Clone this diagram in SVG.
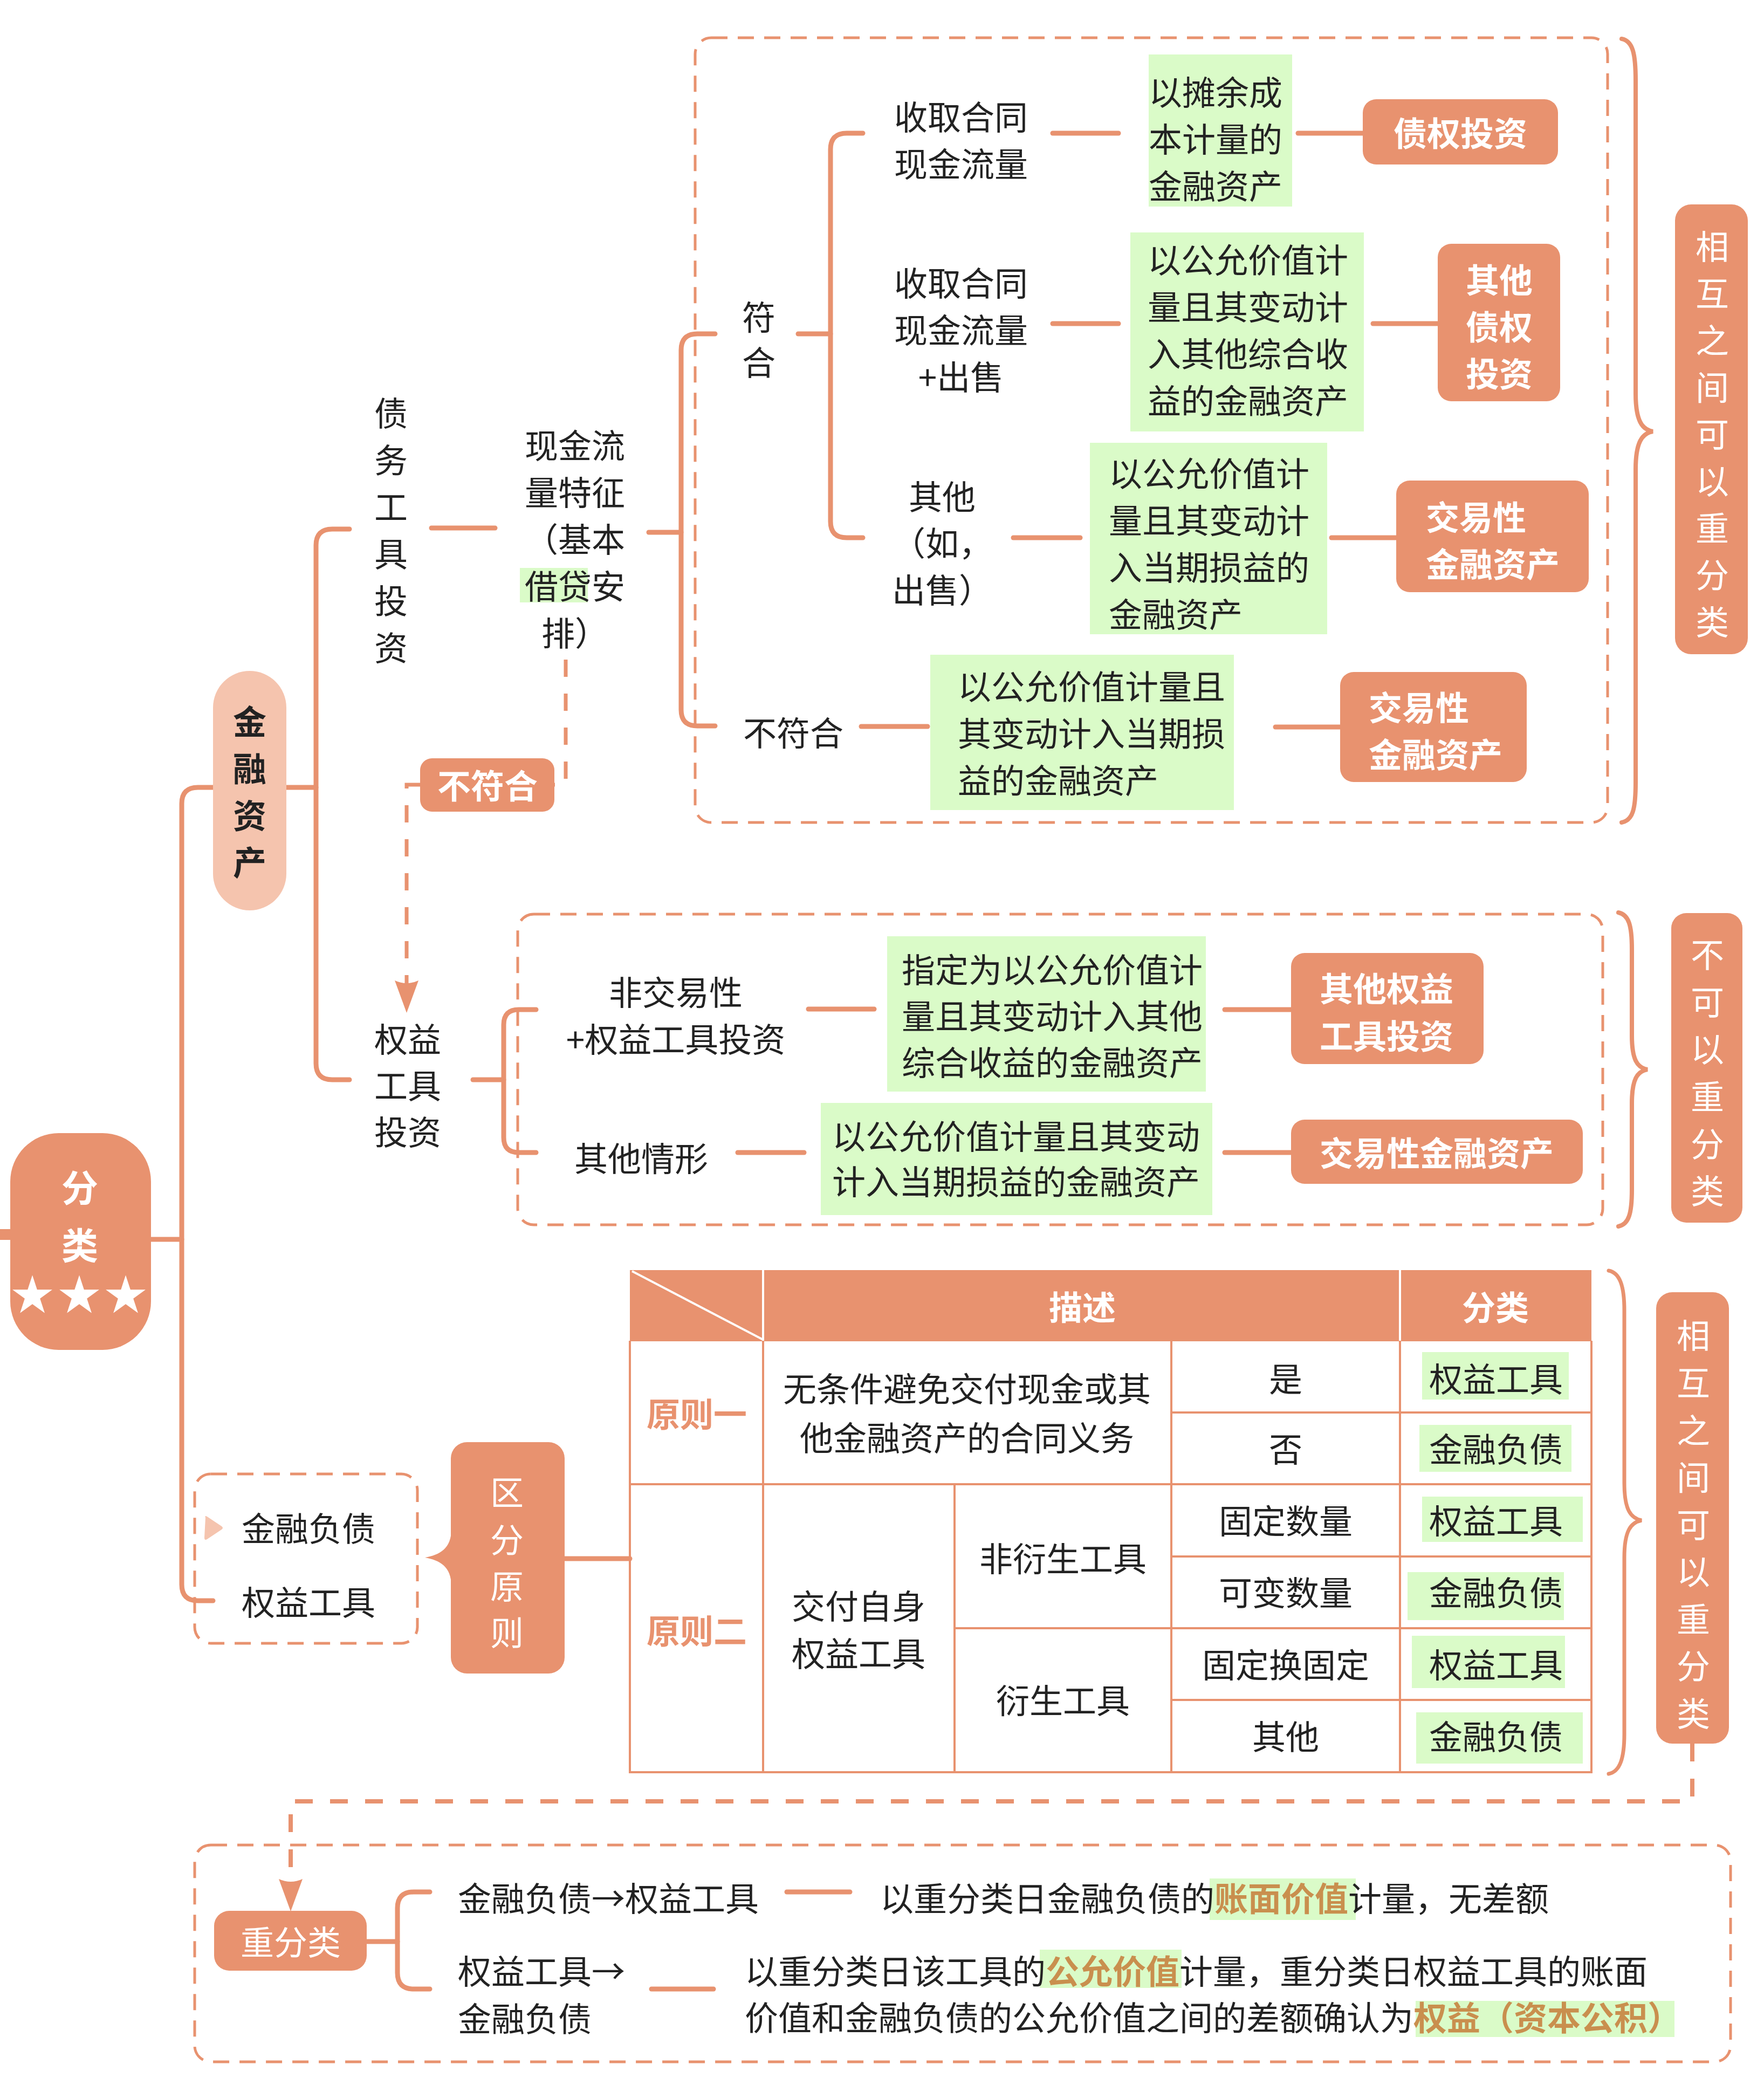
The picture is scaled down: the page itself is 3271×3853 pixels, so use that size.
<svg xmlns="http://www.w3.org/2000/svg" width="3271" height="3853" viewBox="0 0 3271 3853">
<defs>
<style>
.ln{stroke:#E8926F;stroke-width:9;fill:none;stroke-linecap:round;stroke-linejoin:round}
.tl{stroke:#E8926F;stroke-width:4;fill:none}
.dbox{stroke:#E8926F;stroke-width:5;fill:none;stroke-dasharray:30 19}
.dc{stroke:#E8926F;stroke-width:7;fill:none;stroke-dasharray:32 31}
.dc2{stroke:#E8926F;stroke-width:8;fill:none;stroke-dasharray:33 32}
.br{stroke:#E8926F;stroke-width:8;fill:none;stroke-linecap:round}
.n{fill:#E8926F}
.g{fill:#DAFBC8}
.t{font-family:"Noto Sans CJK SC","Noto Sans",sans-serif;font-size:62px;fill:#222;dominant-baseline:central}
.w{fill:#fff}
.b{font-weight:bold}
.m{text-anchor:middle}
.o{fill:#E8926F}
.tan{fill:#C98F4E;font-weight:bold}
.star{font-family:"DejaVu Sans",sans-serif;font-size:96px;fill:#fff;text-anchor:middle}
</style>
<marker id="arr" markerUnits="userSpaceOnUse" markerWidth="60" markerHeight="44" viewBox="0 0 60 44" refX="34" refY="22" orient="auto">
<path d="M0 0 Q10 22 0 44 L60 22 Z" fill="#E8926F"/>
</marker>
</defs>
<rect width="3271" height="3853" fill="#fff"/>

<g id="connectors">
<rect x="0" y="2279" width="20" height="20" class="n"/>
<path class="ln" d="M280 2298 L337 2298"/>
<path class="ln" d="M395 1460 L367 1460 Q337 1460 337 1490 L337 2938 Q337 2968 367 2968 L395 2968"/>
<path class="ln" d="M531 1460 L586 1460"/>
<path class="ln" d="M648 981 L616 981 Q586 981 586 1011 L586 1972 Q586 2002 616 2002 L648 2002"/>
<path class="ln" d="M800 979 L918 979"/>
<path class="ln" d="M1203 987 L1263 987"/>
<path class="ln" d="M1326 619 L1293 619 Q1263 619 1263 649 L1263 1316 Q1263 1346 1293 1346 L1326 1346"/>
<path class="ln" d="M1480 619 L1540 619"/>
<path class="ln" d="M1600 247 L1570 247 Q1540 247 1540 277 L1540 967 Q1540 997 1570 997 L1600 997"/>
<path class="ln" d="M1952 247 L2074 247"/>
<path class="ln" d="M2407 247 L2527 247"/>
<path class="ln" d="M1952 600 L2074 600"/>
<path class="ln" d="M2546 600 L2666 600"/>
<path class="ln" d="M1879 997 L2003 997"/>
<path class="ln" d="M2469 997 L2589 997"/>
<path class="ln" d="M1597 1347 L1720 1347"/>
<path class="ln" d="M2365 1348 L2485 1348"/>
<path class="dc" d="M1049 1223 L1049 1455 L1028 1455"/>
<path class="dc" d="M779 1455 L754 1455 L754 1852" marker-end="url(#arr)"/>
<path class="ln" d="M877 2002 L934 2002"/>
<path class="ln" d="M994 1872 L962 1872 Q934 1872 934 1900 L934 2109 Q934 2137 962 2137 L994 2137"/>
<path class="ln" d="M1499 1871 L1621 1871"/>
<path class="ln" d="M2271 1872 L2394 1872"/>
<path class="ln" d="M1368 2137 L1491 2137"/>
<path class="ln" d="M2271 2137 L2394 2137"/>
<path class="ln" d="M1046 2890 L1168 2890"/>
<path class="dc2" d="M3138 3233 L3138 3340 L539 3340 L539 3518" marker-end="url(#arr)"/>
<path class="ln" d="M680 3600 L737 3600"/>
<path class="ln" d="M797 3508 L767 3508 Q737 3508 737 3538 L737 3658 Q737 3688 767 3688 L797 3688"/>
<path class="ln" d="M1459 3508 L1576 3508"/>
<path class="ln" d="M1208 3688 L1323 3688"/>
<path class="br" d="M3007 72 C3028 76 3033 100 3033 150 L3033 730 C3033 780 3045 797 3065 800 C3045 803 3033 820 3033 870 L3033 1450 C3033 1500 3028 1521 3007 1525"/>
<path class="br" d="M3001 1692 C3020 1696 3026 1715 3026 1760 L3026 1920 C3026 1965 3036 1980 3055 1983 C3036 1986 3026 2001 3026 2046 L3026 2206 C3026 2251 3020 2270 3001 2274"/>
<path class="br" style="stroke-width:7" d="M2983 2356 C3004 2360 3012 2385 3012 2430 L3012 2750 C3012 2800 3024 2815 3044 2819 C3024 2823 3012 2838 3012 2888 L3012 3215 C3012 3260 3004 3285 2983 3289"/>
</g>

<g id="boxes">
<rect class="dbox" x="1289" y="70" width="1692" height="1455" rx="30"/>
<rect class="dbox" x="960" y="1695" width="2012" height="576" rx="30"/>
<rect class="dbox" x="361" y="2733" width="413" height="314" rx="30"/>
<rect class="dbox" x="361" y="3421" width="2848" height="402" rx="30"/>
</g>

<g id="root">
<rect class="n" x="19" y="2101" width="261" height="402" rx="90"/>
<text class="t w b m" x="148" y="2198" style="font-size:68px">分</text>
<text class="t w b m" x="148" y="2305" style="font-size:68px">类</text>
<text class="star" x="60" y="2434">★</text>
<text class="star" x="147" y="2434">★</text>
<text class="star" x="233" y="2434">★</text>
</g>

<g id="jrzc">
<rect x="395" y="1244" width="136" height="444" rx="68" fill="#F5C4AE"/>
<text class="t b m" x="463" y="1335">金</text>
<text class="t b m" x="463" y="1422">融</text>
<text class="t b m" x="463" y="1509">资</text>
<text class="t b m" x="463" y="1596">产</text>
</g>

<g id="zwgj">
<text class="t m" x="725" y="763">债</text>
<text class="t m" x="725" y="850">务</text>
<text class="t m" x="725" y="937">工</text>
<text class="t m" x="725" y="1024">具</text>
<text class="t m" x="725" y="1111">投</text>
<text class="t m" x="725" y="1198">资</text>
</g>

<g id="xjl">
<rect class="g" x="964" y="1053" width="126" height="64"/>
<text class="t m" x="1066" y="823">现金流</text>
<text class="t m" x="1066" y="910">量特征</text>
<text class="t m" x="1066" y="997">（基本</text>
<text class="t m" x="1066" y="1084">借贷安</text>
<text class="t m" x="1066" y="1171">排）</text>
</g>

<g id="fuhe">
<text class="t m" x="1407" y="585">符</text>
<text class="t m" x="1407" y="669">合</text>
</g>

<g id="c1">
<text class="t m" x="1782" y="214">收取合同</text>
<text class="t m" x="1782" y="301">现金流量</text>
</g>
<g id="g1">
<rect class="g" x="2130" y="101" width="266" height="282"/>
<text class="t" x="2130" y="168">以摊余成</text>
<text class="t" x="2130" y="255">本计量的</text>
<text class="t" x="2130" y="342">金融资产</text>
</g>
<g id="n1">
<rect class="n" x="2527" y="184" width="362" height="121" rx="25"/>
<text class="t w b m" x="2708" y="244">债权投资</text>
</g>

<g id="c2">
<text class="t m" x="1782" y="522">收取合同</text>
<text class="t m" x="1782" y="609">现金流量</text>
<text class="t m" x="1782" y="696">+出售</text>
</g>
<g id="g2">
<rect class="g" x="2096" y="431" width="433" height="369"/>
<text class="t" x="2128" y="479">以公允价值计</text>
<text class="t" x="2128" y="566">量且其变动计</text>
<text class="t" x="2128" y="653">入其他综合收</text>
<text class="t" x="2128" y="740">益的金融资产</text>
</g>
<g id="n2">
<rect class="n" x="2666" y="452" width="227" height="292" rx="25"/>
<text class="t w b m" x="2780" y="516">其他</text>
<text class="t w b m" x="2780" y="603">债权</text>
<text class="t w b m" x="2780" y="690">投资</text>
</g>

<g id="c3">
<text class="t m" x="1747" y="918">其他</text>
<text class="t m" x="1747" y="1004">（如，</text>
<text class="t m" x="1747" y="1091">出售）</text>
</g>
<g id="g3">
<rect class="g" x="2021" y="821" width="440" height="355"/>
<text class="t" x="2056" y="875">以公允价值计</text>
<text class="t" x="2056" y="962">量且其变动计</text>
<text class="t" x="2056" y="1049">入当期损益的</text>
<text class="t" x="2056" y="1136">金融资产</text>
</g>
<g id="n3">
<rect class="n" x="2589" y="891" width="357" height="207" rx="25"/>
<text class="t w b" x="2644" y="956">交易性</text>
<text class="t w b" x="2644" y="1043">金融资产</text>
</g>

<g id="bfh">
<text class="t" x="1378" y="1356">不符合</text>
</g>
<g id="g4">
<rect class="g" x="1725" y="1214" width="563" height="288"/>
<text class="t" x="1776" y="1270">以公允价值计量且</text>
<text class="t" x="1776" y="1357">其变动计入当期损</text>
<text class="t" x="1776" y="1444">益的金融资产</text>
</g>
<g id="n4">
<rect class="n" x="2485" y="1246" width="346" height="204" rx="25"/>
<text class="t w b" x="2538" y="1309">交易性</text>
<text class="t w b" x="2538" y="1396">金融资产</text>
</g>

<g id="kx1">
<rect class="n" x="3106" y="379" width="135" height="834" rx="30"/>
<text class="t w m" x="3175" y="454">相</text>
<text class="t w m" x="3175" y="541">互</text>
<text class="t w m" x="3175" y="628">之</text>
<text class="t w m" x="3175" y="715">间</text>
<text class="t w m" x="3175" y="802">可</text>
<text class="t w m" x="3175" y="889">以</text>
<text class="t w m" x="3175" y="976">重</text>
<text class="t w m" x="3175" y="1063">分</text>
<text class="t w m" x="3175" y="1150">类</text>
</g>

<g id="bfhnode">
<rect class="n" x="779" y="1406" width="249" height="99" rx="22"/>
<text class="t w b m" x="904" y="1454">不符合</text>
</g>

<g id="qygj">
<text class="t m" x="756" y="1924">权益</text>
<text class="t m" x="756" y="2010">工具</text>
<text class="t m" x="756" y="2096">投资</text>
</g>

<g id="fjy">
<text class="t m" x="1253" y="1837">非交易性</text>
<text class="t m" x="1253" y="1924">+权益工具投资</text>
</g>
<g id="g5">
<rect class="g" x="1645" y="1736" width="591" height="288"/>
<text class="t" x="1672" y="1795">指定为以公允价值计</text>
<text class="t" x="1672" y="1881">量且其变动计入其他</text>
<text class="t" x="1672" y="1967">综合收益的金融资产</text>
</g>
<g id="n5">
<rect class="n" x="2394" y="1767" width="357" height="206" rx="25"/>
<text class="t w b" x="2447" y="1830">其他权益</text>
<text class="t w b" x="2447" y="1918">工具投资</text>
</g>

<g id="qtqx">
<text class="t" x="1065" y="2145">其他情形</text>
</g>
<g id="g6">
<rect class="g" x="1522" y="2045" width="726" height="208"/>
<text class="t" x="1543" y="2104">以公允价值计量且其变动</text>
<text class="t" x="1543" y="2188">计入当期损益的金融资产</text>
</g>
<g id="n6">
<rect class="n" x="2394" y="2076" width="541" height="119" rx="25"/>
<text class="t w b" x="2447" y="2135">交易性金融资产</text>
</g>

<g id="bk">
<rect class="n" x="3099" y="1693" width="132" height="574" rx="28"/>
<text class="t w m" x="3166" y="1767">不</text>
<text class="t w m" x="3166" y="1855">可</text>
<text class="t w m" x="3166" y="1942">以</text>
<text class="t w m" x="3166" y="2030">重</text>
<text class="t w m" x="3166" y="2118">分</text>
<text class="t w m" x="3166" y="2205">类</text>
</g>

<g id="left">
<path d="M381 2814 Q379 2809 384 2812 L411 2830 Q415 2833 411 2836 L384 2854 Q379 2857 379 2851 Z" fill="#F5C4AE"/>
<text class="t" x="448" y="2831">金融负债</text>
<text class="t" x="448" y="2968">权益工具</text>
</g>

<g id="qfyz">
<path class="n" d="M837 2835 C837 2872 815 2883 788 2888 C815 2893 837 2904 837 2941 Z"/>
<rect class="n" x="836" y="2674" width="211" height="429" rx="30"/>
<text class="t w m" x="940" y="2764">区</text>
<text class="t w m" x="940" y="2852">分</text>
<text class="t w m" x="940" y="2938">原</text>
<text class="t w m" x="940" y="3024">则</text>
</g>

<g id="table">
<rect class="n" x="1168" y="2355" width="1783" height="132"/>
<path d="M1172 2357 L1415 2484" stroke="#fff" stroke-width="4"/>
<path d="M1415 2355 L1415 2486 M2596 2355 L2596 2486" stroke="#fff" stroke-width="4"/>
<path class="tl" d="M1168 2486 L1168 3286 L2951 3286 L2951 2486 M1168 2752 L2951 2752 M2172 2619 L2951 2619 M2172 2886 L2951 2886 M1770 3019 L2951 3019 M2172 3152 L2951 3152 M1415 2486 L1415 3286 M1770 2752 L1770 3286 M2172 2486 L2172 3286 M2596 2486 L2596 3286"/>
<text class="t w b m" x="2007" y="2421">描述</text>
<text class="t w b m" x="2773" y="2421">分类</text>
<text class="t o b m" x="1292" y="2619">原则一</text>
<text class="t o b m" x="1292" y="3021">原则二</text>
<text class="t m" x="1793" y="2572">无条件避免交付现金或其</text>
<text class="t m" x="1793" y="2663">他金融资产的合同义务</text>
<text class="t m" x="2384" y="2554">是</text>
<text class="t m" x="2384" y="2684">否</text>
<text class="t m" x="1592" y="2975">交付自身</text>
<text class="t m" x="1592" y="3063">权益工具</text>
<text class="t m" x="1971" y="2887">非衍生工具</text>
<text class="t m" x="1971" y="3150">衍生工具</text>
<text class="t m" x="2384" y="2817">固定数量</text>
<text class="t m" x="2384" y="2950">可变数量</text>
<text class="t m" x="2384" y="3084">固定换固定</text>
<text class="t m" x="2384" y="3217">其他</text>
<rect class="g" x="2637" y="2507" width="272" height="88"/>
<rect class="g" x="2632" y="2642" width="282" height="87"/>
<rect class="g" x="2637" y="2775" width="298" height="84"/>
<rect class="g" x="2610" y="2915" width="290" height="89"/>
<rect class="g" x="2618" y="3033" width="284" height="97"/>
<rect class="g" x="2626" y="3175" width="309" height="95"/>
<text class="t m" x="2774" y="2554">权益工具</text>
<text class="t m" x="2774" y="2684">金融负债</text>
<text class="t m" x="2774" y="2817">权益工具</text>
<text class="t m" x="2774" y="2950">金融负债</text>
<text class="t m" x="2774" y="3084">权益工具</text>
<text class="t m" x="2774" y="3217">金融负债</text>
</g>

<g id="kx2">
<rect class="n" x="3071" y="2396" width="135" height="837" rx="30"/>
<text class="t w m" x="3140" y="2473">相</text>
<text class="t w m" x="3140" y="2561">互</text>
<text class="t w m" x="3140" y="2649">之</text>
<text class="t w m" x="3140" y="2736">间</text>
<text class="t w m" x="3140" y="2824">可</text>
<text class="t w m" x="3140" y="2911">以</text>
<text class="t w m" x="3140" y="2999">重</text>
<text class="t w m" x="3140" y="3086">分</text>
<text class="t w m" x="3140" y="3174">类</text>
</g>

<g id="cfl">
<rect class="n" x="397" y="3543" width="283" height="111" rx="28"/>
<text class="t w m" x="539" y="3598">重分类</text>
</g>

<g id="r1">
<text class="t" x="849" y="3517">金融负债→权益工具</text>
<rect class="g" x="2243" y="3483" width="271" height="77"/>
<text class="t" x="1632" y="3517">以重分类日金融负债的<tspan class="tan">账面价值</tspan>计量，无差额</text>
</g>
<g id="r2">
<text class="t" x="849" y="3652">权益工具→</text>
<text class="t" x="849" y="3740">金融负债</text>
<rect class="g" x="1928" y="3615" width="263" height="71"/>
<rect class="g" x="2625" y="3710" width="480" height="67"/>
<text class="t" x="1381" y="3652">以重分类日该工具的<tspan class="tan">公允价值</tspan>计量，重分类日权益工具的账面</text>
<text class="t" x="1381" y="3738">价值和金融负债的公允价值之间的差额确认为<tspan class="tan">权益（资本公积）</tspan></text>
</g>
</svg>
